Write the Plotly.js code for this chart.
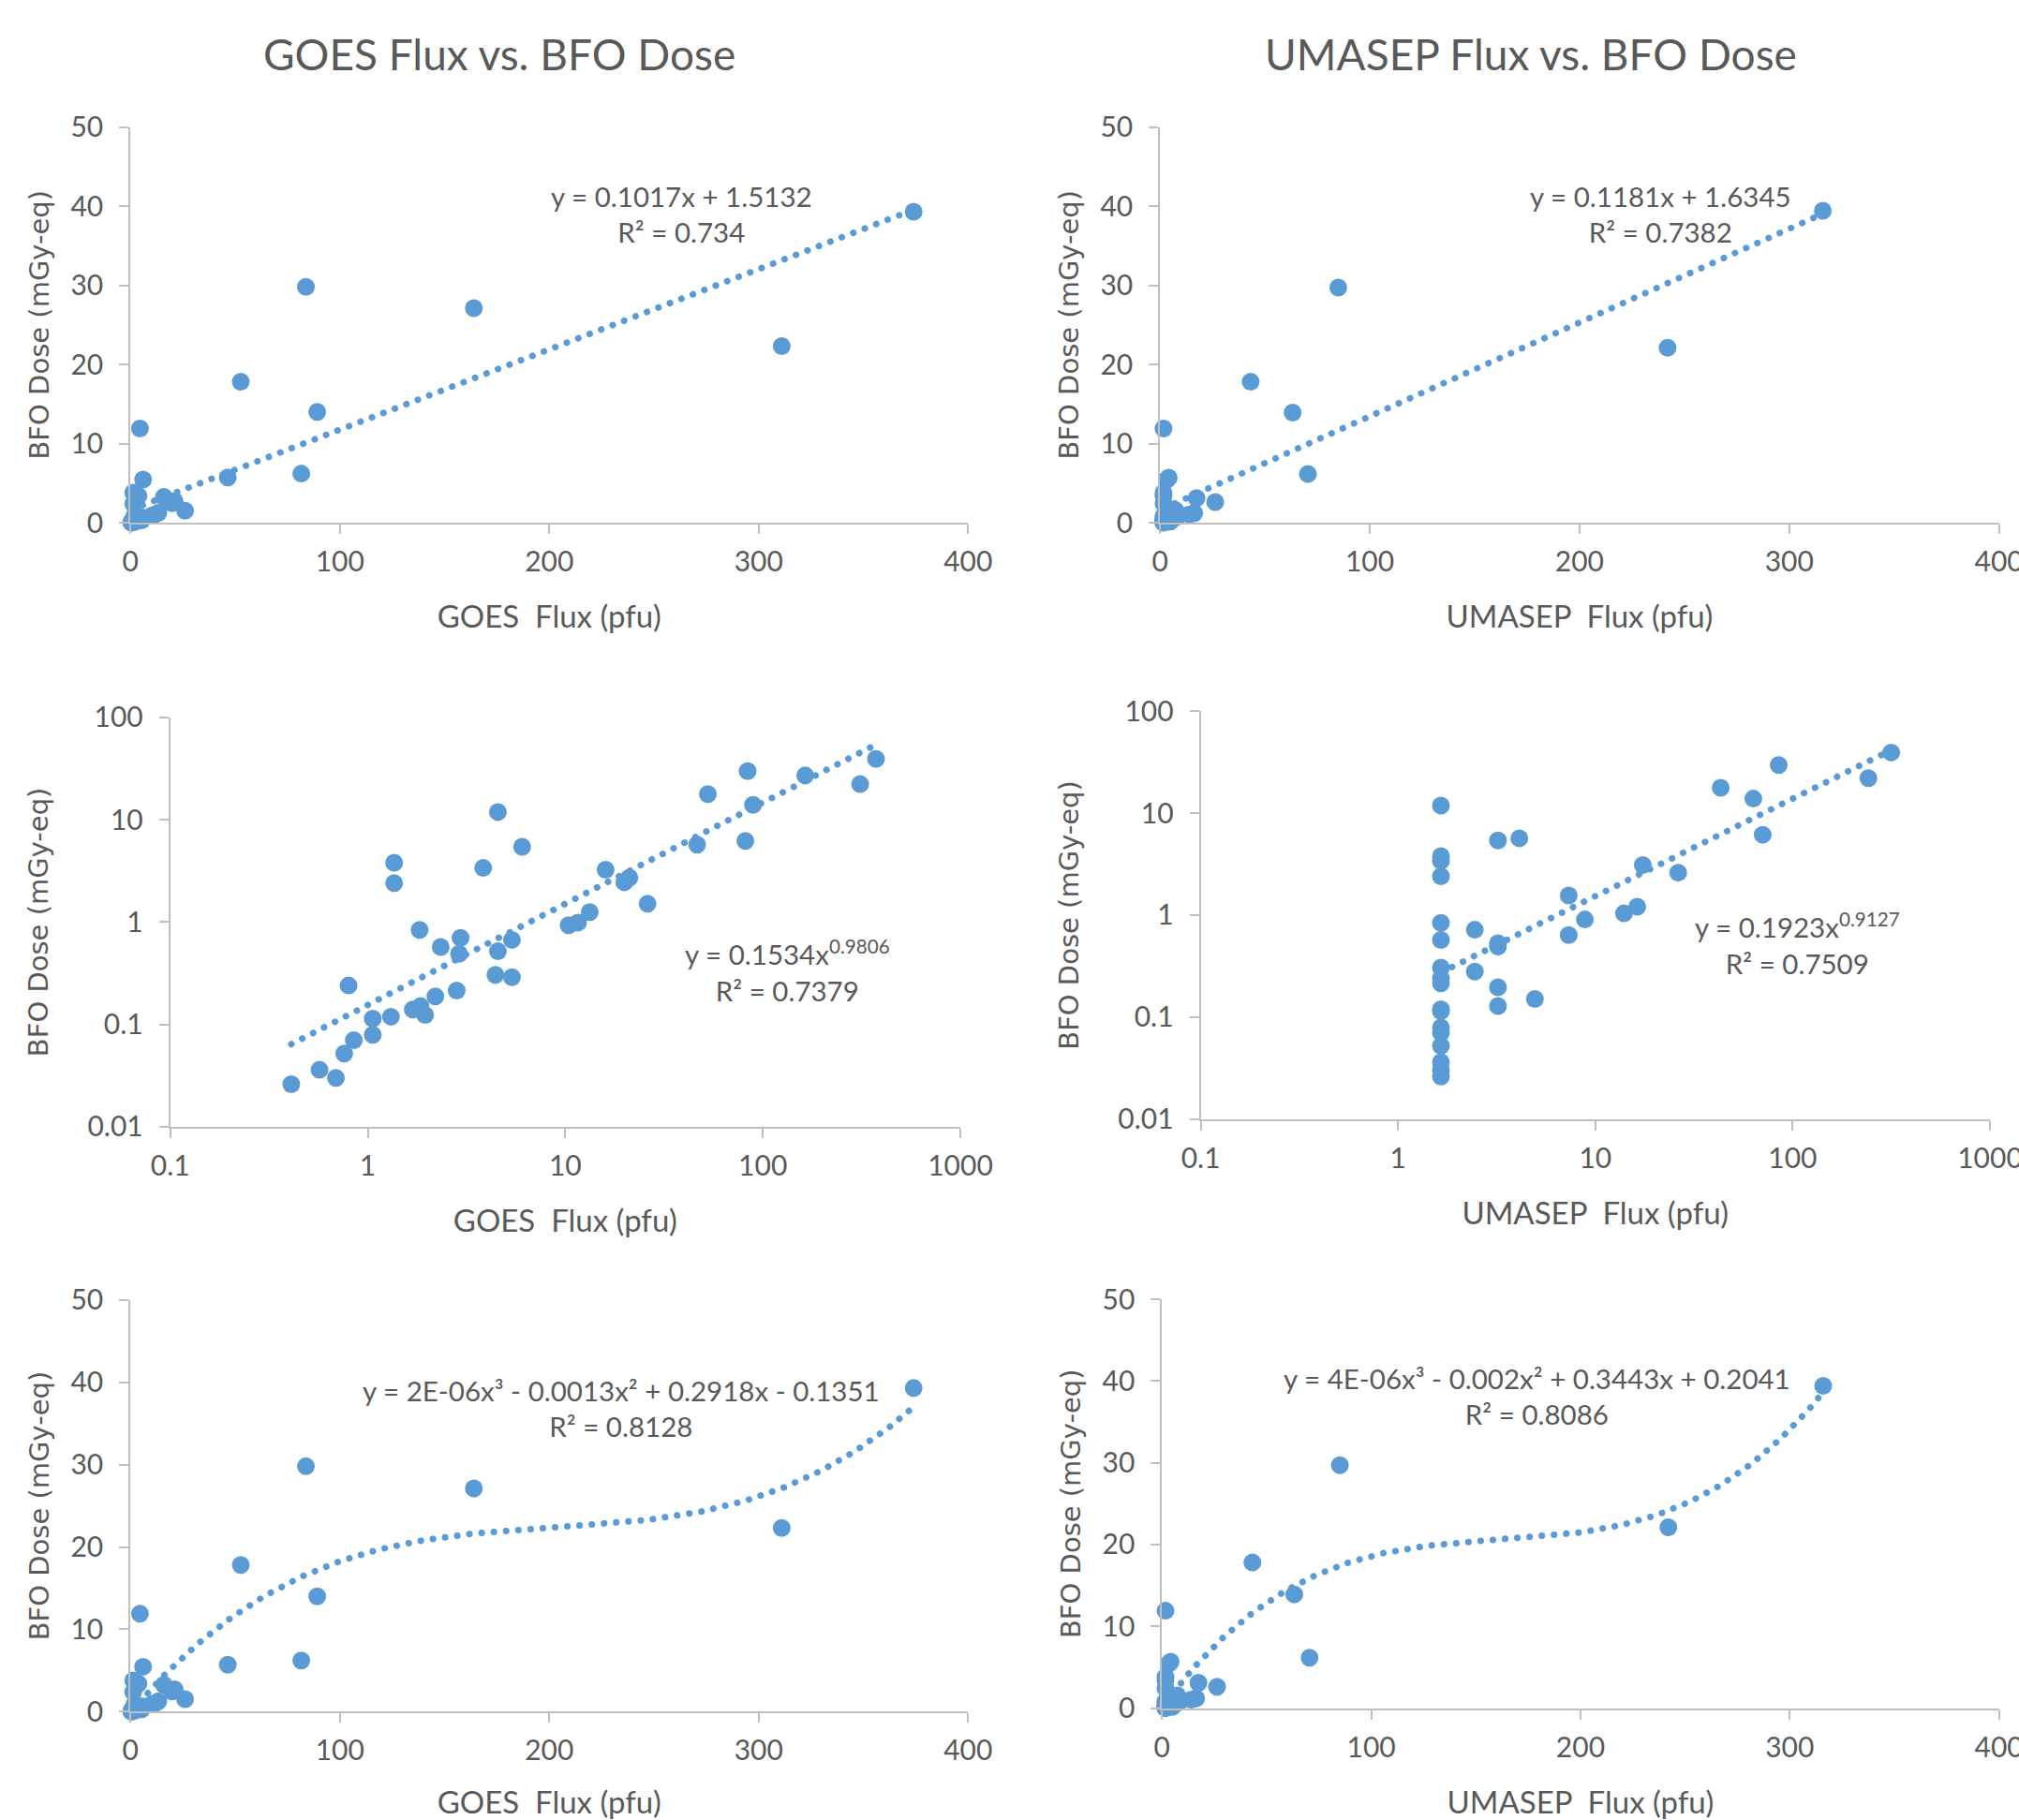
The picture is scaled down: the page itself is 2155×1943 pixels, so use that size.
<!DOCTYPE html>
<html>
<head>
<meta charset="utf-8">
<script src="https://cdn.plot.ly/plotly-3.0.1.min.js"></script>
<style>
html,body{margin:0;padding:0;background:#ffffff;}
#chart{width:2155px;height:1943px;}
</style>
</head>
<body>
<div id="chart"></div>
<script>
// ---------------- DATA ----------------
// GOES flux (pfu) and BFO dose (mGy-eq), one entry per event
const goesFlux = [0.41, 0.57, 0.69, 0.76, 0.85, 0.80, 1.06, 1.06, 1.31, 1.36, 1.36, 1.69, 1.85, 1.95, 1.83,
  2.20, 2.34, 2.82, 2.95, 2.90, 3.84, 4.56, 4.56, 4.43, 5.37, 5.37, 6.05, 10.4, 11.6, 13.3, 16.0, 19.9, 21.1,
  26.1, 46.5, 52.7, 81.6, 83.8, 89.2, 164, 311, 374];
const goesDose = [0.026, 0.036, 0.030, 0.052, 0.070, 0.24, 0.079, 0.114, 0.119, 3.8, 2.4, 0.140, 0.151, 0.124, 0.84,
  0.188, 0.57, 0.214, 0.70, 0.49, 3.38, 11.9, 0.52, 0.305, 0.67, 0.289, 5.45, 0.93, 0.99, 1.25, 3.25, 2.45, 2.72,
  1.51, 5.7, 17.8, 6.2, 29.8, 14.0, 27.1, 22.3, 39.3];

// UMASEP flux (pfu) and BFO dose (mGy-eq)
const umasepFlux = [1.65, 1.65, 1.65, 1.65, 1.65, 1.65, 1.65, 1.65, 1.65, 1.65, 1.65, 1.65, 1.65, 1.65, 1.65, 1.65, 1.65,
  2.45, 2.45, 3.21, 4.12, 3.21, 3.21, 3.21, 3.21, 4.94, 7.33, 7.33, 8.85, 13.97, 16.3, 17.4, 26.3,
  43.2, 63.2, 70.5, 85, 242, 316];
const umasepDose = [11.9, 3.8, 3.4, 2.4, 0.84, 0.57, 0.305, 0.24, 0.214, 0.119, 0.114, 0.079, 0.070, 0.052, 0.036, 0.030, 0.026,
  0.718, 0.279, 5.41, 5.68, 0.49, 0.53, 0.196, 0.128, 0.150, 1.56, 0.637, 0.906, 1.04, 1.21, 3.10, 2.61,
  17.8, 13.9, 6.15, 29.7, 22.1, 39.4];

// Axis ticks
const linXTicks = [0, 100, 200, 300, 400];
const linYTicks = [0, 10, 20, 30, 40, 50];
const logXTicks = [0.1, 1, 10, 100, 1000];
const logXLabels = ['0.1', '1', '10', '100', '1000'];
const logYTicks = [0.01, 0.1, 1, 10, 100];
const logYLabels = ['0.01', '0.1', '1', '10', '100'];

// Texts
const panelTitles = ['GOES Flux vs. BFO Dose', 'UMASEP Flux vs. BFO Dose'];
const xTitles = ['GOES\u00a0 Flux (pfu)', 'UMASEP\u00a0 Flux (pfu)'];
const yTitle = 'BFO Dose (mGy-eq)';
const eqTexts = [
  'y = 0.1017x + 1.5132<br>R² = 0.734',
  'y = 0.1181x + 1.6345<br>R² = 0.7382',
  'y = 0.1534x<sup>0.9806</sup><br>R² = 0.7379',
  'y = 0.1923x<sup>0.9127</sup><br>R² = 0.7509',
  'y = 2E-06x³ - 0.0013x² + 0.2918x - 0.1351<br>R² = 0.8128',
  'y = 4E-06x³ - 0.002x² + 0.3443x + 0.2041<br>R² = 0.8086'
];

// ---------------- STYLE ----------------
const W = 2155, H = 1943;
const FONT = 'Lato, "Open Sans", sans-serif';
const YFONT = '"DejaVu Sans", Verdana, sans-serif';
const TXT = '#595959';
const AXC = '#bfbfbf';
const BLUE = '#5B9BD5';

// ---------------- FITS (least squares on the data) ----------------
function linCoef(x, y) {
  const n = x.length;
  let sx = 0, sy = 0, sxx = 0, sxy = 0;
  for (let i = 0; i < n; i++) { sx += x[i]; sy += y[i]; sxx += x[i]*x[i]; sxy += x[i]*y[i]; }
  const b = (n*sxy - sx*sy) / (n*sxx - sx*sx);
  const a = (sy - b*sx) / n;
  return [a, b];
}
function linFit(x, y) { const c = linCoef(x, y); return v => c[0] + c[1]*v; }
function powFit(x, y) {
  const c = linCoef(x.map(Math.log), y.map(Math.log));
  return v => Math.exp(c[0]) * Math.pow(v, c[1]);
}
function polyFit(x, y, deg) {
  const s = 100, m = deg + 1;
  const A = Array.from({length: m}, () => new Array(m + 1).fill(0));
  for (let i = 0; i < x.length; i++) {
    const t = x[i] / s;
    for (let r = 0; r < m; r++) {
      for (let c = 0; c < m; c++) A[r][c] += Math.pow(t, r + c);
      A[r][m] += y[i] * Math.pow(t, r);
    }
  }
  for (let k = 0; k < m; k++) {
    let p = k;
    for (let r = k + 1; r < m; r++) if (Math.abs(A[r][k]) > Math.abs(A[p][k])) p = r;
    [A[k], A[p]] = [A[p], A[k]];
    for (let r = 0; r < m; r++) {
      if (r === k) continue;
      const f = A[r][k] / A[k][k];
      for (let c = k; c <= m; c++) A[r][c] -= f * A[k][c];
    }
  }
  const coef = A.map((row, k) => row[m] / row[k]);
  return v => coef.reduce((acc, c, k) => acc + c * Math.pow(v / s, k), 0);
}
function sample(min, max, n, log) {
  const out = [];
  for (let i = 0; i < n; i++) {
    const f = i / (n - 1);
    out.push(log ? Math.exp(Math.log(min) + f*(Math.log(max) - Math.log(min))) : min + f*(max - min));
  }
  return out;
}
function range(a) { return [Math.min(...a), Math.max(...a)]; }

// ---------------- TRACES ----------------
const sets = [
  {x: goesFlux, y: goesDose, fit: linFit, log: false},
  {x: umasepFlux, y: umasepDose, fit: linFit, log: false},
  {x: goesFlux, y: goesDose, fit: powFit, log: true},
  {x: umasepFlux, y: umasepDose, fit: powFit, log: true},
  {x: goesFlux, y: goesDose, fit: (x, y) => polyFit(x, y, 3), log: false, cubic: true},
  {x: umasepFlux, y: umasepDose, fit: (x, y) => polyFit(x, y, 3), log: false, cubic: true}
];

const data = [];
sets.forEach((s, i) => {
  const xa = 'x' + (i === 0 ? '' : i + 1), ya = 'y' + (i === 0 ? '' : i + 1);
  data.push({
    type: 'scatter', mode: 'markers', x: s.x, y: s.y, xaxis: xa, yaxis: ya,
    marker: {color: BLUE, size: 19, line: {width: 0}}, cliponaxis: false, showlegend: false, hoverinfo: 'skip'
  });
});
sets.forEach((s, i) => {
  const xa = 'x' + (i === 0 ? '' : i + 1), ya = 'y' + (i === 0 ? '' : i + 1);
  const f = s.fit(s.x, s.y);
  const [mn, mx] = range(s.x);
  const xs = sample(mn, mx, s.cubic ? 300 : 2, s.log);
  data.push({
    type: 'scatter', mode: 'lines', x: xs, y: xs.map(f), xaxis: xa, yaxis: ya,
    line: {color: BLUE, width: 7, dash: '0.1px,13px'}, cliponaxis: false, showlegend: false, hoverinfo: 'skip'
  });
});

// ---------------- LAYOUT ----------------
const fx = p => p / W;
const fy = p => 1 - p / H;

function axis(extra) {
  return Object.assign({
    showline: true, linecolor: AXC, linewidth: 2,
    ticks: 'outside', ticklen: 10, tickwidth: 2, tickcolor: AXC,
    showgrid: false, zeroline: false, fixedrange: true,
    tickfont: {family: FONT, size: 30, color: TXT},
    ticklabeloverflow: 'allow', automargin: false
  }, extra);
}
function linX(d, t) { return axis({domain: d, range: [0, 400], tickvals: linXTicks, ticklabelstandoff: 4,
  title: {text: t, font: {family: FONT, size: 33, color: TXT}, standoff: 32}}); }
function linY(d) { return axis({domain: d, range: [0, 50], tickvals: linYTicks, ticklabelstandoff: 11,
  title: {text: yTitle, font: {family: YFONT, size: 29, color: TXT}, standoff: 14}}); }
function logX(d, t) { return axis({domain: d, type: 'log', range: [-1, 3], tickvals: logXTicks, ticktext: logXLabels, ticklabelstandoff: 4,
  title: {text: t, font: {family: FONT, size: 33, color: TXT}, standoff: 32}}); }
function logY(d) { return axis({domain: d, type: 'log', range: [-2, 2], tickvals: logYTicks, ticktext: logYLabels, ticklabelstandoff: 11,
  title: {text: yTitle, font: {family: YFONT, size: 29, color: TXT}, standoff: 33}}); }

const layout = {
  width: W, height: H,
  margin: {l: 0, r: 0, t: 0, b: 0},
  paper_bgcolor: '#ffffff', plot_bgcolor: 'rgba(0,0,0,0)',
  showlegend: false,
  font: {family: FONT, color: TXT},
  xaxis:  Object.assign(linX([fx(139.2), fx(1033.3)], xTitles[0]), {anchor: 'y'}),  yaxis:  Object.assign(linY([fy(558), fy(135.5)]), {anchor: 'x'}),
  xaxis2: Object.assign(linX([fx(1238.2), fx(2133.6)], xTitles[1]), {anchor: 'y2'}), yaxis2: Object.assign(linY([fy(558), fy(135.5)]), {anchor: 'x2'}),
  xaxis3: Object.assign(logX([fx(181.7), fx(1025)], xTitles[0]), {anchor: 'y3'}), yaxis3: Object.assign(logY([fy(1202.9), fy(765.9)]), {anchor: 'x3'}),
  xaxis4: Object.assign(logX([fx(1281.6), fx(2124)], xTitles[1]), {anchor: 'y4'}), yaxis4: Object.assign(logY([fy(1194.5), fy(759.4)]), {anchor: 'x4'}),
  xaxis5: Object.assign(linX([fx(139.2), fx(1033.3)], xTitles[0]), {anchor: 'y5'}), yaxis5: Object.assign(linY([fy(1827.3), fy(1387.8)]), {anchor: 'x5'}),
  xaxis6: Object.assign(linX([fx(1240.3), fx(2133.6)], xTitles[1]), {anchor: 'y6'}), yaxis6: Object.assign(linY([fy(1823.5), fy(1387)]), {anchor: 'x6'}),
  annotations: []
};

// panel titles
[[533, 57], [1634, 57]].forEach((p, i) => {
  layout.annotations.push({xref: 'paper', yref: 'paper', x: fx(p[0]), y: fy(p[1]), xanchor: 'center', yanchor: 'middle',
    text: panelTitles[i], showarrow: false, font: {family: FONT, size: 46, color: TXT}});
});
// trendline equations
const eqPos = [[727.5, 228], [1772, 228], [840, 1036], [1918, 1008], [663, 1503], [1640, 1490]];
eqPos.forEach((p, i) => {
  layout.annotations.push({xref: 'paper', yref: 'paper', x: fx(p[0]), y: fy(p[1]), xanchor: 'center', yanchor: 'middle',
    align: 'center', text: eqTexts[i], showarrow: false, font: {family: FONT, size: 29.5, color: TXT}});
});

Plotly.newPlot('chart', data, layout, {staticPlot: true, displayModeBar: false}).then(gd => {
  gd.querySelectorAll('.scatterlayer .js-line').forEach(p => { p.style.strokeLinecap = 'round'; });
});
</script>
</body>
</html>
